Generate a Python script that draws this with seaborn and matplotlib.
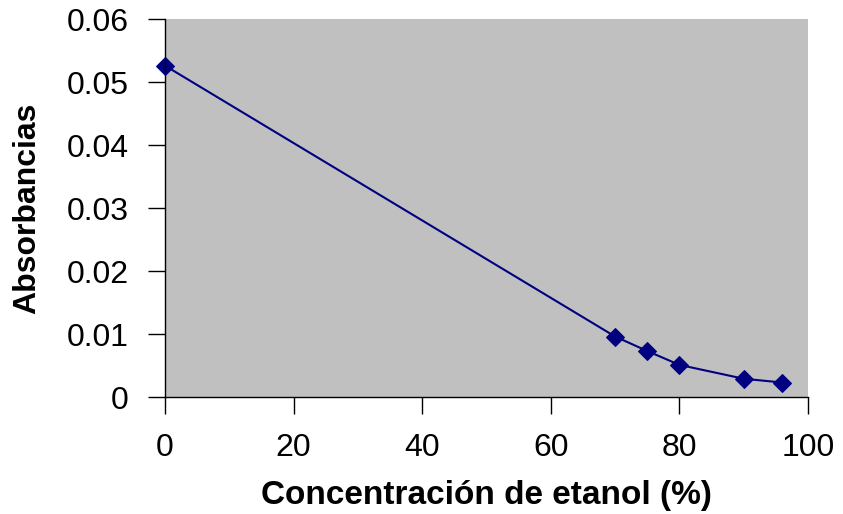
import matplotlib
matplotlib.use("Agg")
import matplotlib.pyplot as plt
import seaborn as sns
import pandas as pd

# Data
etanol = [0, 70, 75, 80, 90, 96]
absorbancia = [0.0526, 0.0096, 0.0073, 0.0051, 0.0029, 0.0023]
x_ticks = [0, 20, 40, 60, 80, 100]
x_tick_labels = ["0", "20", "40", "60", "80", "100"]
y_ticks = [0, 0.01, 0.02, 0.03, 0.04, 0.05, 0.06]
y_tick_labels = ["0", "0.01", "0.02", "0.03", "0.04", "0.05", "0.06"]

df = pd.DataFrame({"x": etanol, "y": absorbancia})

sns.set_style("white")
plt.rcParams["font.family"] = ["Liberation Sans", "DejaVu Sans"]
plt.rcParams["text.color"] = "black"
plt.rcParams["axes.labelcolor"] = "black"

fig = plt.figure(figsize=(8.43, 5.14), dpi=100)
ax = fig.add_axes([0.1957, 0.2276, 0.9585 - 0.1957, 0.963 - 0.2276])
ax.set_facecolor("#C0C0C0")

sns.lineplot(data=df, x="x", y="y", ax=ax, color="#000080", linewidth=1.5,
             marker="D", markersize=9, markeredgecolor="#000080",
             markerfacecolor="#000080", clip_on=False)

ax.set_xlim(0, 100)
ax.set_ylim(0, 0.06)
ax.set_xticks(x_ticks)
ax.set_xticklabels(x_tick_labels)
ax.set_yticks(y_ticks)
ax.set_yticklabels(y_tick_labels)

for s in ["top", "right"]:
    ax.spines[s].set_visible(False)
for s in ["left", "bottom"]:
    ax.spines[s].set_color("black")
    ax.spines[s].set_linewidth(1.0)

ax.tick_params(axis="both", direction="out", length=12, width=1.0,
               color="black", labelsize=23, labelcolor="black",
               bottom=True, left=True)
ax.tick_params(axis="x", pad=14)
ax.tick_params(axis="y", pad=14)

ax.set_xlabel("Concentración de etanol (%)", fontsize=24, fontweight="bold",
              labelpad=12, color="black")
ax.set_ylabel("Absorbancias", fontsize=23, fontweight="bold", labelpad=18,
              color="black")

fig.savefig("out.png", dpi=100)
